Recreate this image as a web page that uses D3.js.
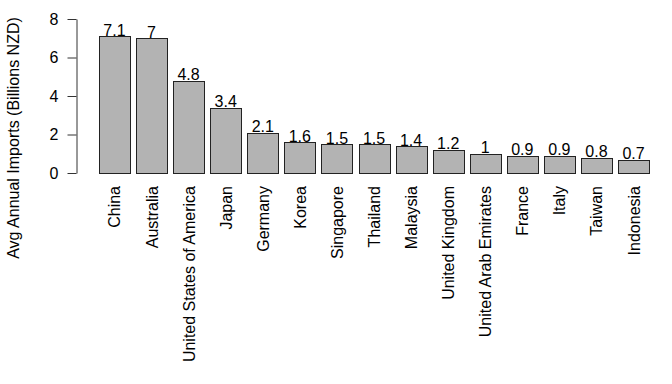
<!DOCTYPE html>
<html>
<head>
<meta charset='utf-8'>
<style>
body { margin: 0; background: #fff; }
text { font-family: 'Liberation Sans', Arial, sans-serif; fill: #000; }
.bar { fill: #b3b3b3; stroke: #222; stroke-width: 1px; }
</style>
<script src='https://d3js.org/d3.v7.min.js'></script>
</head>
<body>
<svg id='chart1' width='672' height='384'></svg>
<script>
var countries = ['China', 'Australia', 'United States of America', 'Japan', 'Germany',
  'Korea', 'Singapore', 'Thailand', 'Malaysia', 'United Kingdom',
  'United Arab Emirates', 'France', 'Italy', 'Taiwan', 'Indonesia'];
var imports = [7.1, 7, 4.8, 3.4, 2.1, 1.6, 1.5, 1.5, 1.4, 1.2, 1, 0.9, 0.9, 0.8, 0.7];
var yTicks = [0, 2, 4, 6, 8];
var yAxisLabel = 'Avg Annual Imports (Billions NZD)';

var data = countries.map(function(c, i) { return {name: c, value: imports[i]}; });

var svg = d3.select('svg');

// bars ~31px wide with ~6px gap (R barplot style, space = 0.2)
var x = d3.scaleBand()
    .domain(countries)
    .range([99, 649])
    .paddingInner(1 / 6)
    .paddingOuter(0);

var y = d3.scaleLinear().domain([0, 8]).range([173, 19]);

svg.selectAll('.bar')
  .data(data)
  .enter().append('rect')
    .attr('class', 'bar')
    .attr('x', function(d) { return Math.round(x(d.name)) + 0.5; })
    .attr('y', function(d) { return Math.round(y(d.value)) + 0.5; })
    .attr('width', Math.round(x.bandwidth()))
    .attr('height', function(d) { return Math.round(y(0)) - Math.round(y(d.value)); });

svg.selectAll('.val')
  .data(data)
  .enter().append('text')
    .attr('class', 'val')
    .attr('x', function(d) { return x(d.name) + x.bandwidth() / 2; })
    .attr('y', function(d) { return y(d.value) - 0.5; })
    .attr('text-anchor', 'middle')
    .attr('font-size', '16px')
    .text(function(d) { return d.value; });

// rotated country names
svg.selectAll('.xlab')
  .data(data)
  .enter().append('text')
    .attr('class', 'xlab')
    .attr('transform', function(d) {
      return 'translate(' + (x(d.name) + x.bandwidth() / 2 + 6) + ',186) rotate(-90)';
    })
    .attr('text-anchor', 'end')
    .attr('font-size', '16px')
    .text(function(d) { return d.name; });

// y axis
var yAxis = d3.axisLeft(y).tickValues(yTicks).tickSize(9).tickPadding(9).tickSizeOuter(0);
var ga = svg.append('g')
    .attr('transform', 'translate(76.5,0)')
    .call(yAxis);
ga.select('.domain').attr('stroke', '#333');
ga.selectAll('.tick line').attr('stroke', '#333');
ga.selectAll('.tick text')
    .attr('font-size', '16px')
    .attr('font-family', "'Liberation Sans', Arial, sans-serif")
    .attr('fill', '#000');

svg.append('text')
    .attr('transform', 'translate(19,138) rotate(-90)')
    .attr('text-anchor', 'middle')
    .attr('font-size', '16px')
    .text(yAxisLabel);
</script>
</body>
</html>
